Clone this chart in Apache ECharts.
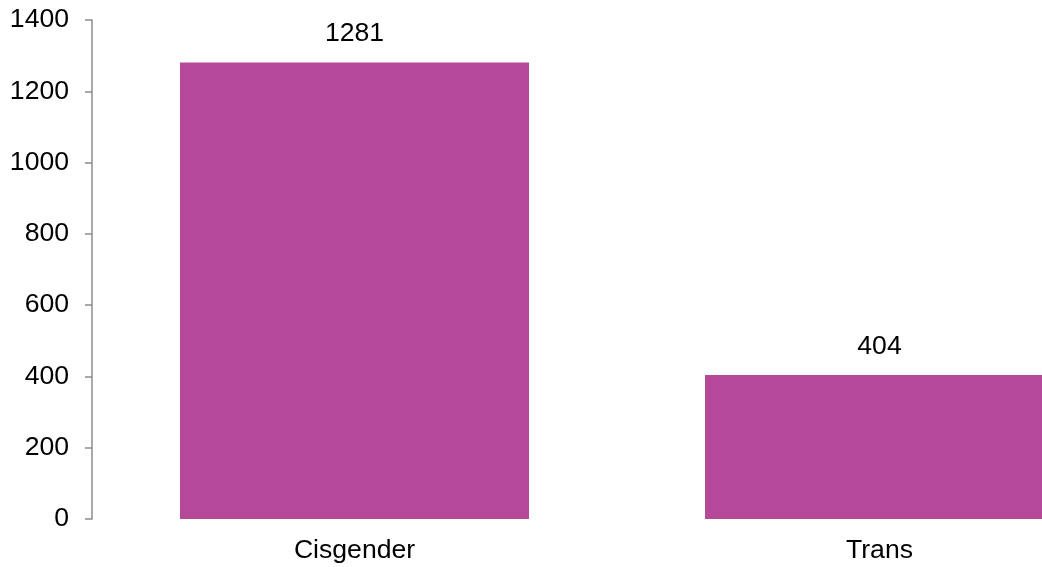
<!DOCTYPE html>
<html>
<head>
<meta charset="utf-8">
<title>Cisgender vs Trans</title>
<script src="https://cdn.jsdelivr.net/npm/echarts@6/dist/echarts.min.js"></script>
<style>
    html, body { margin: 0; padding: 0; background: #fff; overflow: hidden; }
    /* the plot runs past the right edge of the picture, so the canvas is wider than the window */
    #chart { width: 1142px; height: 567px; }
</style>
</head>
<body>
<div id="chart"></div>
<script>
var categories = ['Cisgender', 'Trans'];
var counts = [1281, 404];
var yTicks = { min: 0, max: 1400, step: 200 };

(function () {
    var axisGrey = '#8c8c8c';
    var textColor = '#000';
    var fontFamily = 'Liberation Sans, Arial, sans-serif';

    var option = {
        backgroundColor: '#fff',
        animation: false,
        grid: {
            left: 92,
            top: 20,
            right: 0,
            bottom: 48
        },
        xAxis: {
            type: 'category',
            data: categories,
            axisLine: { show: false },
            axisTick: { show: false },
            axisLabel: {
                margin: 18,
                color: textColor,
                fontSize: 26.6,
                fontFamily: fontFamily
            }
        },
        yAxis: {
            type: 'value',
            min: yTicks.min,
            max: yTicks.max,
            interval: yTicks.step,
            splitLine: { show: false },
            axisLine: { show: true, lineStyle: { color: axisGrey, width: 1.5 } },
            axisTick: { show: true, length: 7, lineStyle: { color: axisGrey, width: 1.5 } },
            axisLabel: {
                margin: 23,
                color: textColor,
                fontSize: 26.6,
                fontFamily: fontFamily,
                formatter: function (v) { return String(v); }
            }
        },
        series: [
            {
                type: 'bar',
                data: counts,
                barWidth: 349,
                itemStyle: { color: '#b4499a' },
                label: {
                    show: true,
                    position: 'top',
                    distance: 15,
                    color: textColor,
                    fontSize: 26.6,
                    fontFamily: fontFamily
                }
            }
        ]
    };

    var chart = echarts.init(document.getElementById('chart'));
    chart.setOption(option);
})();
</script>
</body>
</html>
